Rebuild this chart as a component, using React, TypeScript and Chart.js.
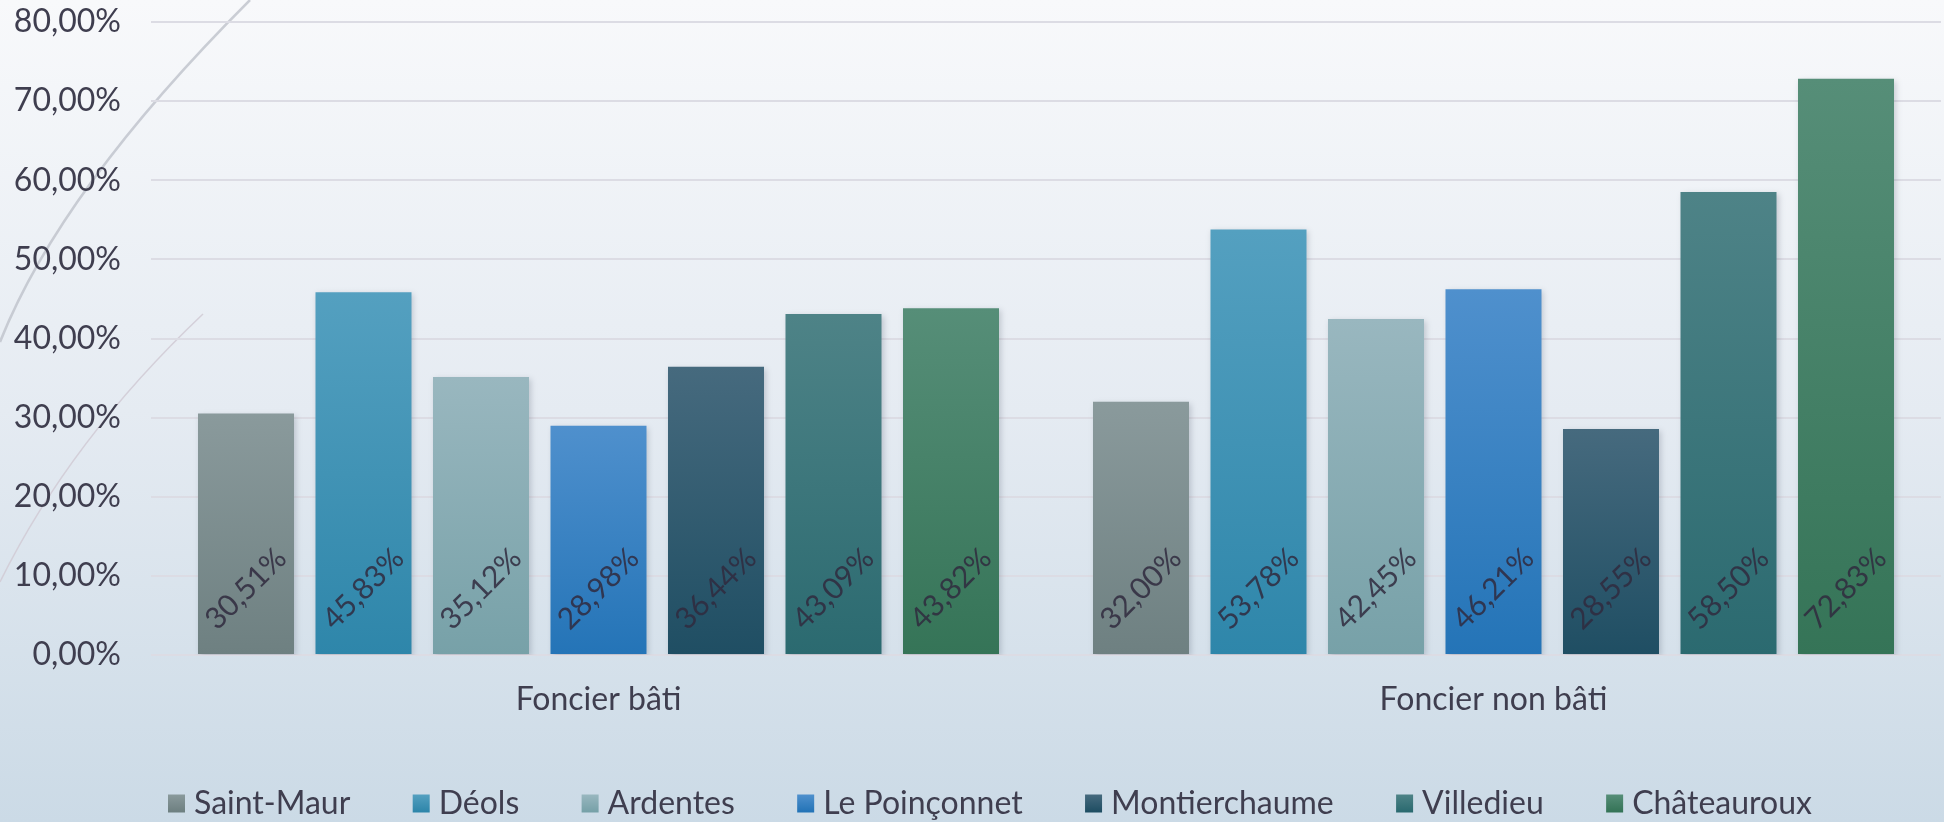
import React, { useEffect, useRef } from "react";
import { Chart, registerables } from "chart.js";

Chart.register(...registerables);

const categories = ["Foncier bâti", "Foncier non bâti"];
const communes = ["Saint-Maur", "Déols", "Ardentes", "Le Poinçonnet", "Montierchaume", "Villedieu", "Châteauroux"];

const saintMaur = [30.51, 32.0];
const deols = [45.83, 53.78];
const ardentes = [35.12, 42.45];
const lePoinconnet = [28.98, 46.21];
const montierchaume = [36.44, 28.55];
const villedieu = [43.09, 58.5];
const chateauroux = [43.82, 72.83];

const seriesValues = [saintMaur, deols, ardentes, lePoinconnet, montierchaume, villedieu, chateauroux];

const topColors = ["#8a9a9c", "#54a0c0", "#99b7bf", "#4f90cd", "#466a7e", "#4e8387", "#568e78"];
const bottomColors = ["#6e8081", "#2e86aa", "#77a1a8", "#2474b7", "#1f4e63", "#2b6a70", "#357457"];

const yTicks = [0, 10, 20, 30, 40, 50, 60, 70, 80];

const FONT = "Lato, 'Open Sans', sans-serif";
const TEXT = "#3f3e4f";

const fmt = (v: number) => v.toFixed(2).replace(".", ",") + "%";

const bgPlugin = {
  id: "bgPlugin",
  beforeDraw(chart: any) {
    const { ctx, width, height } = chart;
    ctx.save();
    const g = ctx.createLinearGradient(0, 0, 0, height);
    g.addColorStop(0, "#f8f9fb");
    g.addColorStop(0.5, "#e5ebf2");
    g.addColorStop(1, "#cbdae6");
    ctx.fillStyle = g;
    ctx.fillRect(0, 0, width, height);
    // decorative curves
    ctx.lineWidth = 2.5;
    ctx.strokeStyle = "rgba(190,194,202,0.8)";
    ctx.beginPath();
    ctx.moveTo(250, 0);
    ctx.quadraticCurveTo(60, 190, 0, 342);
    ctx.stroke();
    ctx.lineWidth = 1.5;
    ctx.strokeStyle = "rgba(210,204,214,0.9)";
    ctx.beginPath();
    ctx.moveTo(203, 314);
    ctx.quadraticCurveTo(70, 440, 0, 582);
    ctx.stroke();
    ctx.restore();
  },
};

const barPlugin = {
  id: "barPlugin",
  beforeDatasetsDraw(chart: any) {
    const ctx = chart.ctx;
    ctx.save();
    ctx.shadowColor = "rgba(40,50,70,0.22)";
    ctx.shadowBlur = 6;
    ctx.shadowOffsetX = 2;
    ctx.shadowOffsetY = 2;
  },
  afterDatasetsDraw(chart: any) {
    const ctx = chart.ctx;
    ctx.restore();
    ctx.save();
    ctx.font = `30px ${FONT}`;
    ctx.fillStyle = "rgba(48,42,62,0.85)";
    ctx.textAlign = "center";
    ctx.textBaseline = "middle";
    chart.data.datasets.forEach((ds: any, di: number) => {
      const meta = chart.getDatasetMeta(di);
      meta.data.forEach((el: any, i: number) => {
        const v = ds.data[i];
        ctx.save();
        ctx.translate(el.x, el.base - 65);
        ctx.rotate(-Math.PI / 4);
        ctx.fillText(fmt(v), 0, 0);
        ctx.restore();
      });
    });
    ctx.restore();
  },
};

// legend drawn as text + boxes, spanning the reference's legend width
const LEGEND_LEFT = 168;
const LEGEND_RIGHT = 1812;
const LEGEND_Y = 803;
const BOX = 17;
const BOX_GAP = 9;

const legendPlugin = {
  id: "customLegend",
  afterDraw(chart: any) {
    const ctx = chart.ctx;
    ctx.save();
    ctx.font = `32px ${FONT}`;
    ctx.textBaseline = "middle";
    ctx.textAlign = "left";
    const widths = communes.map((c) => ctx.measureText(c).width);
    const itemsW = widths.reduce((a, w) => a + BOX + BOX_GAP + w, 0);
    const gap = (LEGEND_RIGHT - LEGEND_LEFT - itemsW) / (communes.length - 1);
    let x = LEGEND_LEFT;
    communes.forEach((c, i) => {
      const g = ctx.createLinearGradient(0, LEGEND_Y - BOX / 2, 0, LEGEND_Y + BOX / 2);
      g.addColorStop(0, topColors[i]);
      g.addColorStop(1, bottomColors[i]);
      ctx.fillStyle = g;
      ctx.fillRect(x, LEGEND_Y - BOX / 2, BOX, BOX + 1);
      ctx.fillStyle = TEXT;
      ctx.fillText(c, x + BOX + BOX_GAP, LEGEND_Y + 1);
      x += BOX + BOX_GAP + widths[i] + gap;
    });
    ctx.restore();
  },
};

export default function App() {
  const ref = useRef<HTMLCanvasElement>(null);

  useEffect(() => {
    if (!ref.current) return;
    const datasets = communes.map((name, si) => ({
      label: name,
      data: seriesValues[si],
      borderWidth: 0,
      backgroundColor: (c: any) => {
        const chart = c.chart;
        if (c.type !== "data" || !chart.scales || !chart.scales.y) return topColors[si];
        const y = chart.scales.y;
        const top = y.getPixelForValue(c.raw);
        const bot = y.getPixelForValue(0);
        if (!isFinite(top) || !isFinite(bot) || top === bot) return topColors[si];
        const g = chart.ctx.createLinearGradient(0, top, 0, bot);
        g.addColorStop(0, topColors[si]);
        g.addColorStop(1, bottomColors[si]);
        return g;
      },
      categoryPercentage: 0.919,
      barPercentage: 0.817,
    }));

    const chart = new Chart(ref.current, {
      type: "bar",
      data: { labels: categories, datasets },
      plugins: [bgPlugin, barPlugin, legendPlugin],
      options: {
        animation: false,
        responsive: true,
        maintainAspectRatio: false,
        layout: { padding: { top: 22, left: 0, right: 3, bottom: 77 } },
        plugins: {
          tooltip: { enabled: false },
          legend: { display: false },
        },
        scales: {
          x: {
            grid: { display: false },
            border: { display: false },
            ticks: { font: { family: FONT, size: 32 }, color: TEXT, padding: 17 },
            afterFit: (scale: any) => {
              scale.height = 90;
              scale.paddingLeft = 0;
              scale.paddingRight = 0;
            },
          },
          y: {
            min: 0,
            max: 80,
            afterBuildTicks: (scale: any) => {
              scale.ticks = yTicks.map((v) => ({ value: v }));
            },
            afterFit: (scale: any) => {
              scale.width = 151;
              scale.paddingTop = 0;
              scale.paddingBottom = 0;
            },
            grid: { color: "#dcdce4", lineWidth: 2, drawTicks: false },
            border: { display: false },
            ticks: {
              font: { family: FONT, size: 32 },
              color: TEXT,
              padding: 30,
              callback: (v: any) => fmt(Number(v)),
            },
          },
        },
      },
    });
    return () => chart.destroy();
  }, []);

  return (
    <div style={{ position: "absolute", left: 0, top: 0, width: 1944, height: 822 }}>
      <canvas ref={ref} />
    </div>
  );
}
